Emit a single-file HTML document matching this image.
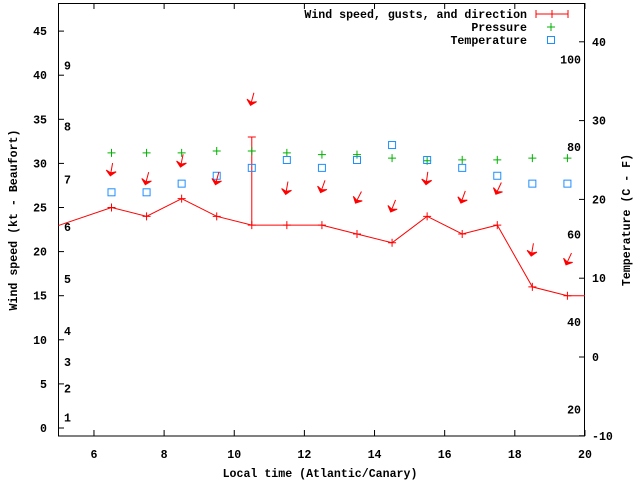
<!DOCTYPE html>
<html><head><meta charset="utf-8"><style>
html,body{margin:0;padding:0;background:#fff;}
svg{display:block;font-family:"Liberation Mono",monospace;font-weight:bold;font-size:11.6px;}
</style></head><body>
<svg id="chart" width="640" height="480" viewBox="0 0 640 480" xmlns="http://www.w3.org/2000/svg">
<defs><clipPath id="clip"><rect x="58.5" y="3" width="526.5" height="433"/></clipPath></defs>
<g id="axes"></g>
<g id="plot" clip-path="url(#clip)"></g>
<text transform="translate(17,220) rotate(-90)" text-anchor="middle">Wind speed (kt - Beaufort)</text>
<text transform="translate(630,220) rotate(-90)" text-anchor="middle">Temperature (C - F)</text>
<text x="320" y="477" text-anchor="middle">Local time (Atlantic/Canary)</text>
<g>
<text x="527" y="18" text-anchor="end">Wind speed, gusts, and direction</text>
<line x1="536" y1="14" x2="568" y2="14" stroke="#f00"/><line x1="536" y1="10" x2="536" y2="18" stroke="#f00"/><line x1="568" y1="10" x2="568" y2="18" stroke="#f00"/><line x1="552" y1="10" x2="552" y2="18" stroke="#f00"/>
<text x="527" y="31" text-anchor="end">Pressure</text>
<path d="M547 27h8M551 23v8" stroke="#00b000" fill="none"/>
<text x="527" y="44" text-anchor="end">Temperature</text>
<rect x="547.5" y="36.5" width="7" height="7" fill="none" stroke="#1e8fff"/>
</g>
</svg>
<script>
const times=[4.5,6.5,7.5,8.5,9.5,10.5,11.5,12.5,13.5,14.5,15.5,16.5,17.5,18.5,19.5,20.5];
const windKt=[22.3,25,24,26,24,23,23,23,22,21,24,22,23,16,15,15];
const gustTimes=[10.5];
const gustKt=[33];
const obsTimes=[6.5,7.5,8.5,9.5,10.5,11.5,12.5,13.5,14.5,15.5,16.5,17.5,18.5,19.5];
const pressurePos=[31.2,31.2,31.2,31.4,31.4,31.2,31.0,31.0,30.6,30.3,30.4,30.4,30.6,30.6];
const tempC=[20.9,20.9,22,23,24,25,24,25,26.9,25,24,23,22,22];
const arrowKt=[28.7,27.7,29.7,27.7,36.7,26.6,26.8,25.6,24.6,27.7,25.6,26.6,19.6,18.6];
const windDir=[10,15,12,15,15,10,20,27,22,8,20,25,10,25];
const xTicks=[6,8,10,12,14,16,18,20];
const yTicks=[0,5,10,15,20,25,30,35,40,45];
const y2Ticks=[-10,0,10,20,30,40];
const fTicks=[20,40,60,80,100];
const beaufort=[1,2,3,4,5,6,7,8,9];
const beaufortKt=[1.2,4.5,7.5,11,16.9,22.8,28.2,34.2,41.1];

const NS="http://www.w3.org/2000/svg";
const X=t=>58.9+(t-5)*35.07;
const Y=k=>428-k*8.82;
const YC=c=>357-c*7.88;
const YF=f=>YC((f-32)*5/9);
function mk(tag,attrs,parent){const e=document.createElementNS(NS,tag);for(const k in attrs)e.setAttribute(k,attrs[k]);parent.appendChild(e);return e;}
const axes=document.getElementById('axes'),plot=document.getElementById('plot');

const frame=mk('rect',{x:58.5,y:3.5,width:526,height:432.5,fill:'none',stroke:'#000'},axes);


xTicks.forEach(t=>{
  const x=X(t);
  mk('line',{x1:x,y1:436,x2:x,y2:430,stroke:'#000'},axes);
  mk('line',{x1:x,y1:3,x2:x,y2:9,stroke:'#000'},axes);
  const tx=mk('text',{x:x,y:458,'text-anchor':'middle'},axes);tx.textContent=t;
  
  
});
yTicks.forEach(v=>{
  const y=Y(v);
  mk('line',{x1:58.5,y1:y,x2:64,y2:y,stroke:'#000'},axes);
  const tx=mk('text',{x:47,y:y+4,'text-anchor':'end'},axes);tx.textContent=v;
  
  
});
y2Ticks.forEach(v=>{
  const y=YC(v);
  mk('line',{x1:579,y1:y,x2:585,y2:y,stroke:'#000'},axes);
  const tx=mk('text',{x:592,y:y+4,'text-anchor':'start'},axes);tx.textContent=v;
  
  
});
fTicks.forEach(v=>{
  const tx=mk('text',{x:581,y:YF(v)+4,'text-anchor':'end'},axes);tx.textContent=v;
  
  
});
beaufort.forEach((b,i)=>{
  const tx=mk('text',{x:64,y:Y(beaufortKt[i])+4},axes);tx.textContent=b;
  
  
});

const line=mk('polyline',{points:times.map((t,i)=>X(t)+','+Y(windKt[i])).join(' '),fill:'none',stroke:'#f00'},plot);


times.forEach((t,i)=>{
  const p=mk('path',{d:`M${X(t)-4} ${Y(windKt[i])}h8M${X(t)} ${Y(windKt[i])-4}v8`,stroke:'#f00',fill:'none'},plot);
  
  
});
gustTimes.forEach((t,i)=>{
  const wi=times.indexOf(t);
  const g=mk('path',{d:`M${X(t)} ${Y(windKt[wi])}V${Y(gustKt[i])}M${X(t)-4} ${Y(gustKt[i])}h8`,stroke:'#f00',fill:'none'},plot);
  
  
});
obsTimes.forEach((t,i)=>{
  const x=X(t),y=Y(pressurePos[i]);
  const p=mk('path',{d:`M${x-4} ${y}h8M${x} ${y-4}v8`,stroke:'#00b000',fill:'none'},plot);
  
  
  const yc=YC(tempC[i]);
  const r=mk('rect',{x:x-3.5,y:yc-3.5,width:7,height:7,fill:'none',stroke:'#1e8fff'},plot);
  
  
  const ay=Y(arrowKt[i]);
  const a=mk('g',{transform:`translate(${x-1},${ay}) rotate(${windDir[i]})`},plot);
  
  
  mk('line',{x1:0,y1:-12,x2:0,y2:0,stroke:'#f00'},a);
  mk('path',{d:'M-5 -4L0 1L5 -4L0 -2Z',fill:'#f00',stroke:'#f00','stroke-width':1},a);
});
</script>
</body></html>
